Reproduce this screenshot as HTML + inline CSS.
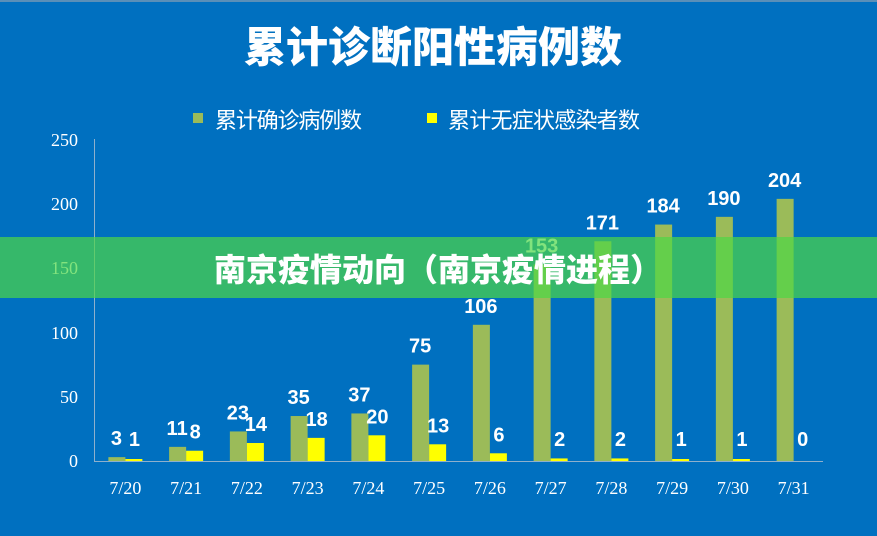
<!DOCTYPE html>
<html><head><meta charset="utf-8"><style>
html,body{margin:0;padding:0;background:#0070c0;}
svg{display:block}
</style></head><body>
<svg width="877" height="536" viewBox="0 0 877 536" xmlns="http://www.w3.org/2000/svg">
<rect width="877" height="536" fill="#0070c0"/>
<rect width="877" height="2" fill="#5a8fb8"/>
<text x="433" y="62" text-anchor="middle" font-family="'Noto Sans CJK SC',sans-serif" font-weight="900" font-size="42" fill="#fff">累计诊断阳性病例数</text>
<rect x="193" y="113" width="10" height="10" fill="#9bbb59"/>
<text x="215" y="128" font-family="'Liberation Sans','Noto Sans CJK SC',sans-serif" font-size="22" fill="#fff" textLength="147">累计确诊病例数</text>
<rect x="427" y="113" width="10" height="10" fill="#ffff00"/>
<text x="448" y="128" font-family="'Liberation Sans','Noto Sans CJK SC',sans-serif" font-size="22" fill="#fff" textLength="192">累计无症状感染者数</text>
<g font-family="'Liberation Serif',serif" font-size="18" fill="#fff" text-anchor="end">
<text x="78" y="146">250</text><text x="78" y="210">200</text><text x="78" y="274">150</text>
<text x="78" y="339">100</text><text x="78" y="403">50</text><text x="78" y="467">0</text>
</g>
<line x1="94.5" y1="139" x2="94.5" y2="461" stroke="#8fb0cc" stroke-width="1"/>
<line x1="94" y1="461.5" x2="823" y2="461.5" stroke="#8fb0cc" stroke-width="1"/>
<g id="bars"></g>
<g font-family="'Liberation Serif',serif" font-size="18" fill="#fff" text-anchor="middle" id="xl"></g>
<g font-family="'Liberation Sans Narrow','Liberation Sans',sans-serif" font-weight="bold" font-size="20" fill="#fff" text-anchor="middle" id="vl"></g>
<rect x="0" y="237" width="877" height="61" fill="rgba(77,215,70,0.7)"/>
<text x="438" y="281" text-anchor="middle" font-family="'Noto Sans CJK SC',sans-serif" font-weight="900" font-size="32" fill="#fff">南京疫情动向（南京疫情进程）</text>
<script>
var g=[3,11,23,35,37,75,106,153,171,184,190,204],y=[1,8,14,18,20,13,6,2,2,1,1,0];
var ns="http://www.w3.org/2000/svg",B=document.getElementById('bars'),X=document.getElementById('xl'),V=document.getElementById('vl');
function el(p,t,a,s){var e=document.createElementNS(ns,t);for(var k in a)e.setAttribute(k,a[k]);if(s!=null)e.textContent=s;p.appendChild(e);}
var k=1.285;
for(var i=0;i<12;i++){var c=95+60.75*(i+0.5);
var hg=g[i]*k,hy=y[i]*k;
el(B,'rect',{x:c-17,y:461-hg,width:17,height:hg,fill:'#9bbb59'});
if(y[i]>0)el(B,'rect',{x:c,y:461-Math.max(hy,2),width:17,height:Math.max(hy,2),fill:'#ffff00'});
el(X,'text',{x:c,y:494},'7/'+(20+i));
var gy=Math.min(461-hg-12,446);
el(V,'text',{x:c-9,y:gy},g[i]);
el(V,'text',{x:c+9,y:Math.min(461-hy-12,446)},y[i]);}
</script>
</svg>
</body></html>
